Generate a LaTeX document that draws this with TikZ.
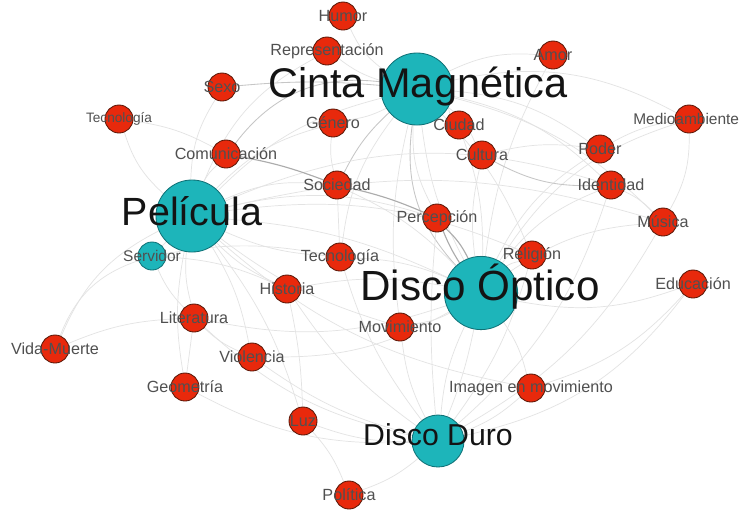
\documentclass[tikz,border=0pt]{standalone}
\usepackage{fontspec}
\setmainfont{Liberation Sans}
\usepackage{tikz}
\usetikzlibrary{positioning, backgrounds}

\definecolor{topicred}{HTML}{E8290C}
\definecolor{topicline}{HTML}{5A1808}
\definecolor{hubteal}{HTML}{1DB5BA}
\definecolor{hubline}{HTML}{0F7277}
\definecolor{tagtext}{HTML}{505050}

\begin{document}
\begin{tikzpicture}[x=0.025cm, y=-0.025cm]
    % styles
    \tikzstyle{topic} = [circle, fill=topicred, draw=topicline, line width=0.6pt, minimum size=0.7cm, inner sep=0]
    \tikzstyle{hub} = [circle, fill=hubteal, draw=hubline, line width=0.6pt, inner sep=0]
    \tikzstyle{tag} = [text=tagtext, font=\fontsize{11.5}{12}\selectfont, inner sep=0]
    \tikzstyle{bigtag} = [text=black!92, anchor=base, inner sep=0]
    \tikzstyle{link} = [draw=gray!22, line width=0.5pt]
    \tikzstyle{mid} = [draw=gray!45, line width=0.6pt]
    \tikzstyle{strong} = [draw=gray!65, line width=0.8pt]

    \useasboundingbox (0,0) rectangle (742,509);

    % hubs
    \node (cinta) [hub, minimum size=1.8cm] at (417,89) {};
    \node (pelicula) [hub, minimum size=1.8cm] at (192,216) {};
    \node (optico) [hub, minimum size=1.83cm] at (481,293) {};
    \node (duro) [hub, minimum size=1.3cm] at (438,441) {};
    \node (servidor) [hub, minimum size=0.7cm, label={[tag, font=\fontsize{11}{12}\selectfont]center:Servidor}] at (152,256) {};

    % topics
    \node (humor) [topic, label={[tag]center:Humor}] at (343,16) {};
    \node (repr) [topic, label={[tag]center:Representación}] at (327,51) {};
    \node (sexo) [topic, label={[tag]center:Sexo}] at (222,87) {};
    \node (tecnoA) [topic, label={[tag, font=\fontsize{9.7}{10}\selectfont]center:Tecnología}] at (119,119) {};
    \node (genero) [topic, label={[tag]center:Género}] at (333,123) {};
    \node (ciudad) [topic, label={[tag]center:Ciudad}] at (459,125) {};
    \node (cultura) [topic, label={[tag]center:Cultura}] at (482,155) {};
    \node (comunic) [topic, label={[tag]center:Comunicación}] at (226,154) {};
    \node (sociedad) [topic, label={[tag]center:Sociedad}] at (337,185) {};
    \node (amor) [topic, label={[tag]center:Amor}] at (553,55) {};
    \node (medio) [topic, label={[tag, font=\fontsize{11}{12}\selectfont, xshift=-0.07cm]center:Medioambiente}] at (689,119) {};
    \node (poder) [topic, label={[tag]center:Poder}] at (600,149) {};
    \node (identidad) [topic, label={[tag]center:Identidad}] at (611,185) {};
    \node (musica) [topic, label={[tag]center:Música}] at (663,222) {};
    \node (percep) [topic, label={[tag]center:Percepción}] at (437,218) {};
    \node (religion) [topic, label={[tag]center:Religión}] at (532,255) {};
    \node (educacion) [topic, label={[tag]center:Educación}] at (693,284) {};
    \node (tecnoB) [topic, label={[tag]center:Tecnología}] at (340,257) {};
    \node (historia) [topic, label={[tag]center:Historia}] at (287,289) {};
    \node (literatura) [topic, label={[tag]center:Literatura}] at (194,318) {};
    \node (movimiento) [topic, label={[tag]center:Movimiento}] at (400,327) {};
    \node (vida) [topic, label={[tag]center:Vida-Muerte}] at (55,349) {};
    \node (violencia) [topic, label={[tag]center:Violencia}] at (252,357) {};
    \node (geometria) [topic, label={[tag]center:Geometría}] at (185,387) {};
    \node (imagen) [topic, label={[tag]center:Imagen en movimiento}] at (531,388) {};
    \node (luz) [topic, label={[tag]center:Luz}] at (303,421) {};
    \node (politica) [topic, label={[tag]center:Política}] at (349,495) {};

    % hub names
    \node (cinta-t) [bigtag, font=\fontsize{29.5}{30}\selectfont] at (418,97) {Cinta Magnética};
    \node (pelicula-t) [bigtag, font=\fontsize{28}{30}\selectfont] at (192,225) {Película};
    \node (optico-t) [bigtag, font=\fontsize{30}{32}\selectfont] at (480,300) {Disco Óptico};
    \node (duro-t) [bigtag, font=\fontsize{21.5}{24}\selectfont] at (438,445) {Disco Duro};

    % links
    \begin{scope}[on background layer]
        \fill[white] (0,0) rectangle (742,509);
        \draw [link] (cinta) to[bend left=15] (humor);
        \draw [link] (cinta) to[bend left=10] (repr);
        \draw [mid] (cinta) to[bend right=5] (sexo);
        \draw [link] (cinta) to[bend left=10] (genero);
        \draw [link] (cinta) to[bend left=10] (ciudad);
        \draw [link] (cinta) to[bend left=15] (cultura);
        \draw [mid] (cinta) to[bend right=30] (comunic);
        \draw [mid] (cinta) to[bend right=10] (sociedad);
        \draw [link] (cinta) to[bend right=15] (percep);
        \draw [mid] (cinta) to[bend right=25] (optico);
        \draw [link] (cinta) to[bend right=10] (optico);
        \draw [link] (cinta) to[bend left=15] (amor);
        \draw [link] (cinta) to[bend left=15] (poder);
        \draw [link] (cinta) to[bend left=15] (identidad);
        \draw [link] (cinta) to[bend left=10] (religion);
        \draw [link] (cinta) to[bend right=15] (tecnoB);
        \draw [link] (cinta) to[bend right=15] (pelicula);
        \draw [link] (cinta) to[bend left=20] (medio);
        \draw [link] (cinta) to[bend left=15] (musica);
        \draw [link] (cinta) to[bend right=10] (movimiento);

        \draw [link] (pelicula) to[bend left=10] (comunic);
        \draw [link] (pelicula) to[bend left=15] (tecnoA);
        \draw [link] (pelicula) to[bend left=15] (sexo);
        \draw [link] (pelicula) to[bend left=15] (sociedad);
        \draw [link] (pelicula) to[bend left=15] (percep);
        \draw [link] (pelicula) to[bend right=10] (tecnoB);
        \draw [link] (pelicula) to[bend right=10] (historia);
        \draw [link] (pelicula) to[bend right=10] (literatura);
        \draw [link] (pelicula) to[bend right=20] (vida);
        \draw [link] (pelicula) to[bend left=10] (violencia);
        \draw [link] (pelicula) to[bend right=10] (geometria);
        \draw [link] (pelicula) to (servidor);
        \draw [link] (pelicula) to[bend left=10] (optico);
        \draw [link] (pelicula) to[bend left=15] (religion);
        \draw [link] (pelicula) to[bend left=20] (identidad);
        \draw [link] (pelicula) to[bend left=15] (musica);
        \draw [link] (pelicula) to[bend right=10] (movimiento);
        \draw [link] (pelicula) to[bend left=10] (luz);
        \draw [link] (pelicula) to[bend left=15] (genero);
        \draw [link] (pelicula) to[bend left=20] (repr);
        \draw [link] (pelicula) to[bend right=15] (imagen);

        \draw [strong] (optico) to[bend left=5] (percep);
        \draw [strong] (optico) to[bend right=10] (percep);
        \draw [link] (optico) to[bend left=10] (religion);
        \draw [link] (optico) to[bend left=15] (identidad);
        \draw [link] (optico) to[bend left=15] (musica);
        \draw [link] (optico) to[bend right=15] (educacion);
        \draw [link] (optico) to[bend left=20] (medio);
        \draw [link] (optico) to[bend left=15] (poder);
        \draw [link] (optico) to[bend left=10] (cultura);
        \draw [link] (optico) to[bend left=10] (movimiento);
        \draw [link] (optico) to[bend left=10] (imagen);
        \draw [link] (optico) to[bend right=10] (duro);
        \draw [link] (optico) to[bend left=5] (duro);
        \draw [link] (optico) to[bend right=10] (historia);
        \draw [link] (optico) to[bend right=10] (tecnoB);
        \draw [link] (optico) to[bend left=15] (literatura);
        \draw [link] (optico) to[bend right=10] (sociedad);
        \draw [link] (optico) to[bend left=15] (violencia);
        \draw [link] (optico) to[bend right=10] (ciudad);
        \draw [link] (optico) to[bend left=10] (amor);

        \draw [link] (duro) to[bend left=10] (movimiento);
        \draw [link] (duro) to[bend right=10] (imagen);
        \draw [link] (duro) to[bend left=10] (luz);
        \draw [link] (duro) to[bend left=10] (politica);
        \draw [link] (duro) to[bend left=10] (historia);
        \draw [link] (duro) to[bend left=10] (violencia);
        \draw [link] (duro) to[bend left=10] (tecnoB);
        \draw [link] (duro) to[bend left=15] (literatura);
        \draw [link] (duro) to[bend right=15] (identidad);
        \draw [link] (duro) to[bend right=15] (musica);
        \draw [link] (duro) to[bend right=20] (educacion);
        \draw [link] (duro) to[bend left=5] (percep);
        \draw [link] (duro) to[bend right=10] (religion);
        \draw [link] (duro) to[bend left=15] (geometria);

        \draw [link] (servidor) to[bend right=10] (literatura);
        \draw [link] (servidor) to[bend right=25] (vida);
        \draw [link] (servidor) to[bend left=10] (historia);
        \draw [link] (servidor) to[bend left=10] (tecnoB);

        \draw [strong] (comunic) to[bend left=5] (sociedad);
        \draw [strong] (sociedad) to[bend left=5] (percep);
        \draw [mid] (cultura) to[bend right=15] (identidad);
        \draw [link] (poder) to[bend left=10] (medio);
        \draw [link] (comunic) to[bend right=10] (tecnoA);
        \draw [link] (literatura) to[bend right=10] (vida);
        \draw [link] (literatura) to (geometria);
        \draw [link] (genero) to[bend right=10] (sociedad);
        \draw [link] (sociedad) to (tecnoB);
        \draw [link] (historia) to[bend left=5] (luz);
        \draw [link] (luz) to[bend left=10] (politica);
        \draw [link] (educacion) to[bend left=15] (imagen);
        \draw [link] (violencia) to[bend left=10] (literatura);
        \draw [link] (musica) to[bend right=10] (identidad);
        \draw [link] (poder) to[bend right=10] (cultura);
        \draw [link] (medio) to[bend left=15] (musica);
    \end{scope}
\end{tikzpicture}
\end{document}
